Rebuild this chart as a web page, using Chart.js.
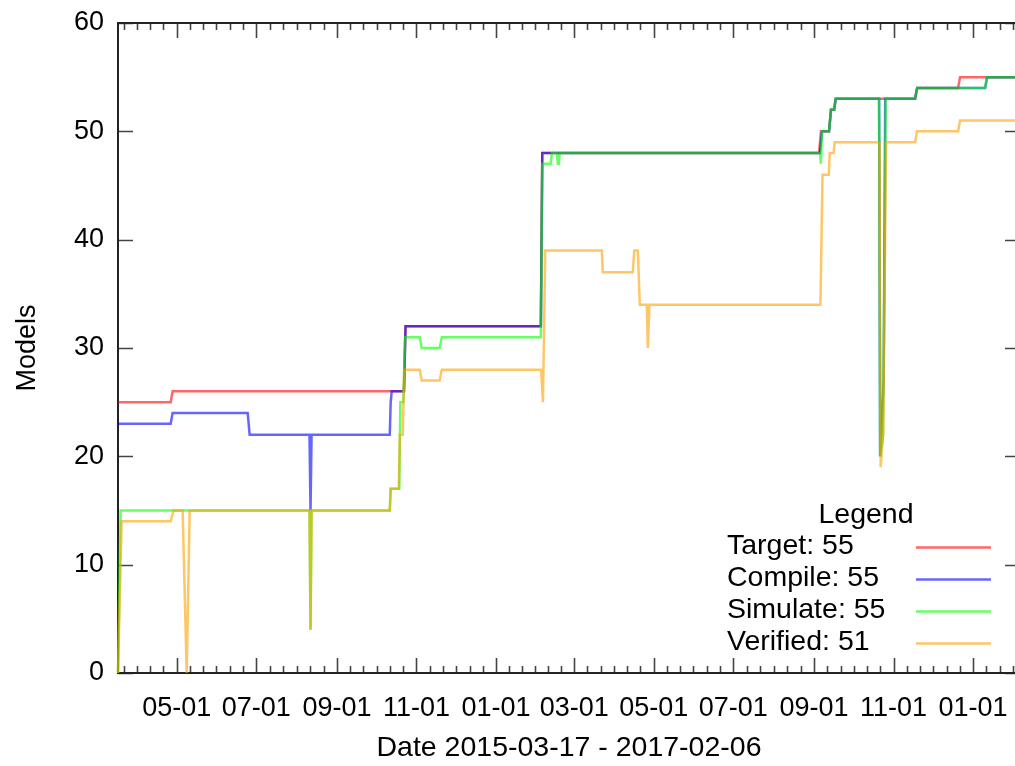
<!DOCTYPE html>
<html><head><meta charset="utf-8">
<script src="https://cdn.jsdelivr.net/npm/chart.js@4.4.0/dist/chart.umd.min.js"></script>
<style>html,body{margin:0;padding:0;overflow:hidden;background:#fff;width:1015px;height:766px}canvas{display:block}</style>
</head><body><canvas id="c" width="1035" height="766"></canvas>
<script>
// ---- data ----
const startDate = '2015-03-17';
const endDate = '2017-02-06';
const tickDates = ['2015-05-01','2015-07-01','2015-09-01','2015-11-01','2016-01-01','2016-03-01',
                   '2016-05-01','2016-07-01','2016-09-01','2016-11-01','2017-01-01'];
const tickLabels = ['05-01','07-01','09-01','11-01','01-01','03-01','05-01','07-01','09-01','11-01','01-01'];
const yTickValues = [0,10,20,30,40,50,60];
const seriesNames = ['Target','Compile','Simulate','Verified'];
const legendLabels = ['Target: 55','Compile: 55','Simulate: 55','Verified: 51'];
const xTitle = 'Date 2015-03-17 - 2017-02-06';
const yTitle = 'Models';

// [day since start, models]
const target = [[0,25],[40.4,25],[41.9,26],[219.4,26],[220.6,32],[324.4,32],[325.5,48],[537.8,48],[539.3,50],
  [545.5,50],[547.0,52],[549.4,52],[550.6,53],[611.5,53],[613.1,54],[644.5,54],[646.0,55],[692,55]];
const compile = [[0,23],[40.4,23],[41.9,24],[99.5,24],[101.0,22],[146.9,22],[147.7,15],[148.5,22],[208.5,22],
  [209.2,25],[210.0,26],[219.4,26],[220.6,32],[324.4,32],[325.5,48],[538.5,48],[540.1,50],[545.5,50],[547.0,52],
  [549.4,52],[550.6,53],[583.9,53],[584.7,20],[587.4,27],[588.6,53],[611.5,53],[613.1,54],[665.2,54],[666.8,55],[692,55]];
const simulate = [[0,0],[2.0,15],[146.9,15],[147.7,4],[148.5,15],[208.5,15],[209.2,17],[215.8,17],[216.6,25],
  [218.9,25],[220.2,31],[231.5,31],[233.0,30],[246.8,30],[248.4,31],[324.4,31],[325.5,47],[332.0,47],[332.8,48],
  [336.7,48],[337.4,47],[338.2,47],[338.9,48],[538.5,48],[539.3,47],[540.1,50],[545.5,50],[547.0,52],[549.4,52],
  [550.6,53],[583.9,53],[584.7,20],[587.0,22],[589.0,53],[611.5,53],[613.1,54],[665.2,54],[666.8,55],[692,55]];
const verified = [[0,0],[2.8,14],[40.4,14],[42.7,15],[49.6,15],[52.7,0],[55.0,15],[146.9,15],[147.7,4],[148.5,15],
  [208.5,15],[209.2,17],[215.4,17],[216.2,22],[218.5,22],[219.6,28],[231.5,28],[233.0,27],[246.8,27],[248.4,28],
  [324.6,28],[326.0,25],[327.8,39],[371.2,39],[371.9,37],[394.9,37],[396.1,39],[398.8,39],[400.3,34],[405.7,34],
  [406.5,30],[407.7,34],[538.9,34],[540.5,46],[545.3,46],[546.1,48],[549.0,48],[549.8,49],[584.2,49],[585.1,19],
  [587.0,22],[589.3,49],[611.5,49],[613.1,50],[644.5,50],[646.0,51],[692,51]];
const seriesColors = ['rgba(255,0,0,0.6)','rgba(0,0,255,0.6)','rgba(0,255,0,0.6)','rgba(255,160,0,0.6)'];

// ---- helpers ----
const dayOf = d => (Date.parse(d) - Date.parse(startDate)) / 86400000;
const endDay = dayOf(endDate);
const tickDays = tickDates.map(dayOf);
const FONT = '"Liberation Sans", Arial, sans-serif';
Chart.defaults.font.family = FONT;
Chart.defaults.font.size = 27;
Chart.defaults.color = '#000';

const allSeries = [target, compile, simulate, verified];
const datasets = allSeries.map((s, i) => ({
  label: seriesNames[i],
  data: s.map(p => ({x: p[0], y: p[1]})),
  borderColor: seriesColors[i],
  borderWidth: 2.5,
  pointRadius: 0,
  tension: 0,
  fill: false,
  clip: false,
  order: allSeries.length - 1 - i
}));

function minorTicks() {
  const out = [];
  for (let i = 0; i < tickDays.length - 1; i++) {
    const a = tickDays[i], b = tickDays[i + 1], st = (b - a) / 6;
    for (let k = 1; k < 6; k++) out.push(a + k * st);
  }
  let st = (tickDays[1] - tickDays[0]) / 6;
  for (let v = tickDays[0] - st; v > 0.5; v -= st) out.push(v);
  const n = tickDays.length;
  st = (tickDays[n - 1] - tickDays[n - 2]) / 6;
  for (let v = tickDays[n - 1] + st; v < endDay - 0.5; v += st) out.push(v);
  return out;
}

const framePlugin = {
  id: 'frame',
  beforeDatasetsDraw(chart) {
    const {ctx, chartArea: {left, right, top, bottom}, scales: {x, y}} = chart;
    ctx.save();
    ctx.strokeStyle = '#444';
    ctx.lineWidth = 1.6;
    ctx.beginPath();
    const MAJ = 15, MIN = 7;
    tickDays.forEach(d => {
      const px = Math.round(x.getPixelForValue(d)) + 0.5;
      ctx.moveTo(px, bottom); ctx.lineTo(px, bottom - MAJ);
      ctx.moveTo(px, top); ctx.lineTo(px, top + MAJ);
    });
    minorTicks().forEach(d => {
      const px = Math.round(x.getPixelForValue(d)) + 0.5;
      ctx.moveTo(px, bottom); ctx.lineTo(px, bottom - MIN);
      ctx.moveTo(px, top); ctx.lineTo(px, top + MIN);
    });
    yTickValues.forEach(v => {
      const py = Math.round(y.getPixelForValue(v)) + 0.5;
      ctx.moveTo(left, py); ctx.lineTo(left + MAJ, py);
      ctx.moveTo(right, py); ctx.lineTo(right - MAJ, py);
    });
    ctx.stroke();
    ctx.strokeStyle = '#222';
    ctx.lineWidth = 2;
    ctx.strokeRect(left, top, right - left, bottom - top);
    ctx.restore();
  }
};

const legendPlugin = {
  id: 'gpLegend',
  afterDatasetsDraw(chart) {
    const {ctx, chartArea: {right}} = chart;
    ctx.save();
    ctx.font = '28.5px ' + FONT;
    ctx.fillStyle = '#000';
    ctx.textBaseline = 'middle';
    ctx.textAlign = 'center';
    ctx.fillText('Legend', right - 154, 515);
    ctx.textAlign = 'left';
    chart.data.datasets.forEach((ds, i) => {
      const yy = 546 + i * 32;
      ctx.fillStyle = '#000';
      ctx.fillText(legendLabels[i], right - 293, yy);
      ctx.strokeStyle = ds.borderColor;
      ctx.lineWidth = 2.5;
      ctx.beginPath();
      ctx.moveTo(right - 104, yy + 1.5);
      ctx.lineTo(right - 29, yy + 1.5);
      ctx.stroke();
    });
    ctx.restore();
  }
};

new Chart(document.getElementById('c'), {
  type: 'line',
  data: {datasets},
  options: {
    responsive: false,
    animation: false,
    devicePixelRatio: 1,
    layout: {padding: {left: 0, top: 23, right: 15, bottom: 0}},
    plugins: {legend: {display: false}, tooltip: {enabled: false}},
    scales: {
      x: {
        type: 'linear', position: 'bottom', min: 0, max: endDay,
        grid: {display: false, drawTicks: false}, border: {display: false},
        afterBuildTicks: s => { s.ticks = tickDays.map(v => ({value: v})); },
        afterFit: s => { s.height = 93; },
        ticks: {autoSkip: false, maxRotation: 0, padding: 19, callback: (v, i) => tickLabels[i]},
        title: {display: true, text: xTitle, font: {size: 28.5}, padding: {top: 0, bottom: 1}}
      },
      y: {
        type: 'linear', min: 0, max: 60,
        grid: {display: false, drawTicks: false}, border: {display: false},
        afterBuildTicks: s => { s.ticks = yTickValues.map(v => ({value: v})); },
        afterFit: s => { s.width = 118; },
        ticks: {padding: 14, font: {size: 27, lineHeight: 0.6}, callback: v => String(v)},
        title: {display: true, text: yTitle, padding: {top: 11, bottom: 0}}
      }
    }
  },
  plugins: [framePlugin, legendPlugin]
});
</script></body></html>
